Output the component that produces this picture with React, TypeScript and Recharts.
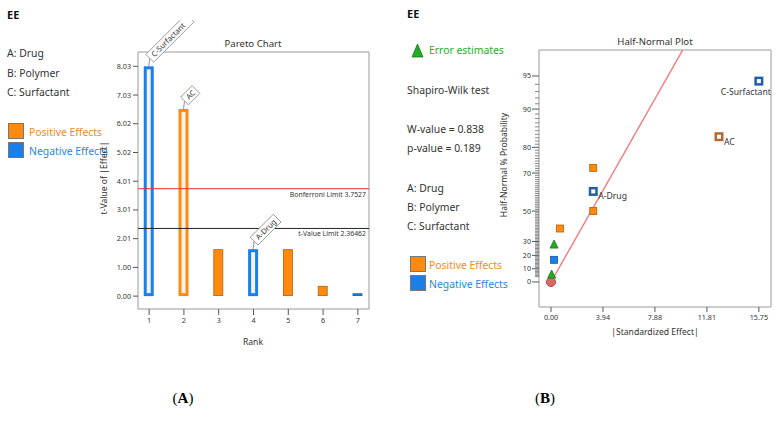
import React from 'react';
import {
  ComposedChart, Bar, XAxis, YAxis, ReferenceLine, ReferenceArea, LabelList,
  ScatterChart, Scatter,
} from 'recharts';

const FONT = '"Noto Sans", "Open Sans", sans-serif';
const ORANGE = '#ff8a0d';
const ORANGE_EDGE = '#b85e00';
const BLUE = '#1c7ee8';
const BLUE_EDGE = '#1458aa';
const GREEN = '#22ad22';
const TXT = '#333';

// ---- (A) Pareto chart ----
const paretoRanks = [1, 2, 3, 4, 5, 6, 7];
const paretoTValues = [8.03, 6.54, 1.64, 1.64, 1.64, 0.36, 0.1];
const paretoSigns = ['neg', 'pos', 'pos', 'neg', 'pos', 'pos', 'neg'];
const paretoInModel = [true, true, false, true, false, false, false];
const paretoTerms = ['C-Surfactant', 'AC', '', 'A-Drug', '', '', ''];
const paretoYTicks = [0, 1.00375, 2.0075, 3.01125, 4.015, 5.01875, 6.0225, 7.02625, 8.03];
const paretoYLabels = ['0.00', '1.00', '2.01', '3.01', '4.01', '5.02', '6.02', '7.03', '8.03'];
const bonferroniLimit = 3.7527;
const tValueLimit = 2.36462;

// ---- (B) Half-normal plot ----
const hnEffects = [0.05, 0.23, 0.23, 0.68, 3.2, 3.2, 3.2, 12.73, 15.75];
const hnProbs = [5.6, 16.7, 27.8, 38.9, 50.0, 61.1, 72.2, 83.3, 94.4];
const hnKinds = ['error', 'neg', 'error', 'pos', 'pos', 'neg', 'pos', 'pos', 'neg'];
const hnInModel = [false, false, false, false, false, true, false, true, true];
const hnTerms = ['', '', '', '', '', 'A-Drug', '', 'AC', 'C-Surfactant'];
const hnXTicks = [0, 3.9375, 7.875, 11.8125, 15.75];
const hnXLabels = ['0.00', '3.94', '7.88', '11.81', '15.75'];
const hnYTicks = [0, 10, 20, 30, 50, 70, 80, 90, 95];
const hnFitEffects = [0, 10.0];
const hnFitProbs = [0, 97.3];

// inverse normal cdf (Acklam)
function probit(p: number) {
  const a = [-39.69683028665376, 220.9460984245205, -275.9285104469687, 138.357751867269, -30.66479806614716, 2.506628277459239];
  const b = [-54.47609879822406, 161.5858589038810, -155.6989798598866, 66.80131188771972, -13.28068155288572];
  const c = [-0.007784894002430293, -0.3223964580411365, -2.400758277161838, -2.549732539343734, 4.374664141464968, 2.938163982698783];
  const d = [0.007784695709041462, 0.3224671290700398, 2.445134137142996, 3.754408661907416];
  const lo = 0.02425;
  if (p < lo) {
    const q = Math.sqrt(-2 * Math.log(p));
    return (((((c[0] * q + c[1]) * q + c[2]) * q + c[3]) * q + c[4]) * q + c[5]) / ((((d[0] * q + d[1]) * q + d[2]) * q + d[3]) * q + 1);
  }
  if (p > 1 - lo) {
    const q = Math.sqrt(-2 * Math.log(1 - p));
    return -(((((c[0] * q + c[1]) * q + c[2]) * q + c[3]) * q + c[4]) * q + c[5]) / ((((d[0] * q + d[1]) * q + d[2]) * q + d[3]) * q + 1);
  }
  const q = p - 0.5;
  const r = q * q;
  return (((((a[0] * r + a[1]) * r + a[2]) * r + a[3]) * r + a[4]) * r + a[5]) * q / (((((b[0] * r + b[1]) * r + b[2]) * r + b[3]) * r + b[4]) * r + 1);
}
const hnZ = (pct: number) => probit(0.5 + pct / 200);

// major + minor ladder on the probability axis
const probAxisTicks: number[] = [...hnYTicks];
for (let p = 4; p <= 94; p++) if (!hnYTicks.includes(p)) probAxisTicks.push(p);
probAxisTicks.sort((m, n) => m - n);

const ProbTick = (props: any) => {
  const { x, y, payload } = props;
  const k = hnYTicks.findIndex((p) => Math.abs(hnZ(p) - payload.value) < 1e-9);
  if (k < 0) return <line x1={x - 4} x2={x} y1={y} y2={y} stroke="#6a6a6a" strokeWidth={0.8} />;
  return (
    <g>
      <line x1={x - 7} x2={x} y1={y} y2={y} stroke="#555" />
      <text x={x - 8} y={y} dy={2.5} textAnchor="end" fontSize={7.2} fill={TXT} fontFamily={FONT}>{hnYTicks[k]}</text>
    </g>
  );
};

const ParetoBar = (props: any) => {
  const { x, y, width, height, payload } = props;
  const fill = payload.sign === 'pos' ? ORANGE : BLUE;
  if (payload.inModel) {
    return (
      <g>
        <rect x={x} y={y} width={width} height={height} fill={fill} />
        <rect x={x + 3} y={y + 3} width={width - 6} height={height - 6} fill="#f2f2f2" />
      </g>
    );
  }
  return <rect x={x + 0.5} y={y + 0.5} width={width - 1} height={height - 1} fill={fill} stroke={payload.sign === 'pos' ? ORANGE_EDGE : BLUE_EDGE} strokeWidth={0.8} />;
};

const TermTag = (props: any) => {
  const { x, y, width, value } = props;
  if (!value) return null;
  const cx = x + width / 2;
  const top = y - 8;
  const len = value.length * 4.1 + 8;
  return (
    <g>
      <line x1={cx} y1={y} x2={cx + 1} y2={top} stroke="#777" strokeWidth={0.8} />
      <g transform={`translate(${cx + 1},${top}) rotate(-45)`}>
        <rect x={0} y={-5.5} width={len} height={11} fill="#fff" stroke="#888" strokeWidth={0.8} />
        <text x={4} y={2.7} fontSize={7.6} fill={TXT} fontFamily={FONT}>{value}</text>
      </g>
    </g>
  );
};

const HalfNormalMark = (props: any) => {
  const { cx, cy, payload } = props;
  const { kind, inModel, term } = payload;
  let mark;
  if (kind === 'error') {
    mark = <polygon points={`${cx - 4},${cy + 3.5} ${cx + 4},${cy + 3.5} ${cx},${cy - 4.5}`} fill={GREEN} stroke="#157a15" strokeWidth={0.8} />;
  } else if (inModel) {
    const edge = kind === 'pos' ? '#b06a36' : '#1f5fa8';
    mark = (
      <g>
        <rect x={cx - 4.5} y={cy - 4.5} width={9} height={9} fill={edge} />
        <rect x={cx - 2} y={cy - 2} width={4} height={4} fill="#fff" />
      </g>
    );
  } else {
    mark = <rect x={cx - 3.5} y={cy - 3.5} width={7} height={7} fill={kind === 'pos' ? ORANGE : BLUE} stroke={kind === 'pos' ? ORANGE_EDGE : BLUE_EDGE} strokeWidth={0.8} />;
  }
  let label = null;
  if (term) {
    const nearRight = payload.effect > 14;
    label = (
      <text x={nearRight ? cx + 12 : cx + 5} y={nearRight ? cy + 14 : cy + 8} textAnchor={nearRight ? 'end' : 'start'} fontSize={8.6} fill={TXT} fontFamily={FONT}>
        {term}
      </text>
    );
  }
  return <g>{mark}{label}</g>;
};

const OriginMark = (props: any) => (
  <circle cx={props.cx} cy={props.cy} r={4.6} fill="#d86868" stroke="#9a3c3c" strokeWidth={0.8} />
);

const NoMark = () => <g />;

const tickStyle = { fontSize: 7.2, fill: TXT, fontFamily: FONT };

export default function App() {
  const paretoRows = paretoRanks.map((rank, i) => ({
    rank, t: paretoTValues[i], sign: paretoSigns[i], inModel: paretoInModel[i], term: paretoTerms[i],
  }));
  const hnRows = hnEffects.map((effect, i) => ({
    effect, z: hnZ(hnProbs[i]), kind: hnKinds[i], inModel: hnInModel[i], term: hnTerms[i],
  }));
  const fitRows = hnFitEffects.map((effect, i) => ({ effect, z: hnZ(hnFitProbs[i]) }));
  const originRows = [{ effect: 0, z: hnZ(0) }];

  const pX: [number, number] = [0.68, 7.32];
  const pY: [number, number] = [-0.45, 8.53];
  const hX: [number, number] = [-0.91, 16.67];
  const hY: [number, number] = [-0.238, 2.207];

  return (
    <div style={{ position: 'absolute', left: 0, top: 0, width: 778, height: 429, background: '#fff', fontFamily: FONT, overflow: 'hidden' }}>
      <svg width={778} height={429} style={{ position: 'absolute', left: 0, top: 0 }} fontFamily={FONT}>
        {/* left panel text */}
        <text x={7} y={19} fontSize={11} fontWeight="bold" fill="#111">EE</text>
        <text x={7} y={57} fontSize={10.4} fill={TXT}>A: Drug</text>
        <text x={7} y={77} fontSize={10.4} fill={TXT}>B: Polymer</text>
        <text x={7} y={96} fontSize={10.4} fill={TXT}>C: Surfactant</text>
        <rect x={8.5} y={123.5} width={15} height={15} fill={ORANGE} stroke="#777" />
        <text x={29} y={136} fontSize={10.4} fill="#f08a24">Positive Effects</text>
        <rect x={8.5} y={142.5} width={15} height={15} fill={BLUE} stroke="#777" />
        <text x={29} y={155} fontSize={10.4} fill="#1e88e5">Negative Effects</text>
        <text x={253} y={47} fontSize={9.6} fill={TXT} textAnchor="middle">Pareto Chart</text>
        <text transform="translate(107,178) rotate(-90)" fontSize={8.6} fill={TXT} textAnchor="middle">t-Value of |Effect|</text>
        <text x={253} y={345} fontSize={8.6} fill={TXT} textAnchor="middle">Rank</text>

        {/* right panel text */}
        <text x={407} y={18} fontSize={11} fontWeight="bold" fill="#111">EE</text>
        <polygon points="412,57 423,57 417.5,44" fill={GREEN} stroke="#157a15" strokeWidth={0.8} />
        <text x={429} y={54} fontSize={10.4} fill="#22b022">Error estimates</text>
        <text x={407} y={94} fontSize={10.4} fill={TXT}>Shapiro-Wilk test</text>
        <text x={407} y={133} fontSize={10.4} fill={TXT}>W-value = 0.838</text>
        <text x={407} y={152} fontSize={10.4} fill={TXT}>p-value = 0.189</text>
        <text x={407} y={192} fontSize={10.4} fill={TXT}>A: Drug</text>
        <text x={407} y={211} fontSize={10.4} fill={TXT}>B: Polymer</text>
        <text x={407} y={230} fontSize={10.4} fill={TXT}>C: Surfactant</text>
        <rect x={410.5} y={256.5} width={15} height={15} fill={ORANGE} stroke="#777" />
        <text x={429} y={269} fontSize={10.4} fill="#f08a24">Positive Effects</text>
        <rect x={410.5} y={275.5} width={15} height={15} fill={BLUE} stroke="#777" />
        <text x={429} y={288} fontSize={10.4} fill="#1e88e5">Negative Effects</text>
        <text x={655} y={45} fontSize={9.6} fill={TXT} textAnchor="middle">Half-Normal Plot</text>
        <text transform="translate(507,165) rotate(-90)" fontSize={8.6} fill={TXT} textAnchor="middle">Half-Normal % Probability</text>
        <text x={655} y={335} fontSize={8.6} fill={TXT} textAnchor="middle">|Standardized Effect|</text>

        {/* panel captions */}
        <text x={183} y={403} fontSize={15} textAnchor="middle" fontFamily='"Liberation Serif", serif' fill="#000">(<tspan fontWeight="bold">A</tspan>)</text>
        <text x={545} y={403} fontSize={15} textAnchor="middle" fontFamily='"Liberation Serif", serif' fill="#000">(<tspan fontWeight="bold">B</tspan>)</text>
      </svg>

      <div style={{ position: 'absolute', left: 90, top: 20 }}>
        <ComposedChart width={290} height={320} data={paretoRows} margin={{ top: 32, right: 11, bottom: 0, left: 0 }}>
          <XAxis dataKey="rank" type="number" domain={pX} allowDataOverflow ticks={paretoRanks}
            axisLine={false} tickSize={6} tickMargin={3} tick={tickStyle} tickLine={{ stroke: '#555' }} height={31} />
          <YAxis type="number" domain={pY} allowDataOverflow ticks={paretoYTicks} width={48}
            tickFormatter={(v: number, i: number) => paretoYLabels[i]}
            axisLine={false} tickSize={5} tickMargin={2} tick={tickStyle} tickLine={{ stroke: '#555' }} />
          <ReferenceArea x1={pX[0]} x2={pX[1]} y1={pY[0]} y2={pY[1]} fill="none" stroke="#9a9a9a" strokeWidth={1} ifOverflow="visible" />
          <ReferenceLine y={bonferroniLimit} stroke="#ff2a2a" strokeWidth={1}
            label={{ value: `Bonferroni Limit ${bonferroniLimit}`, position: 'insideTopRight', fontSize: 6.9, fill: TXT, fontFamily: FONT, offset: 3 }} />
          <ReferenceLine y={tValueLimit} stroke="#222" strokeWidth={1}
            label={{ value: `t-Value Limit ${tValueLimit}`, position: 'insideTopRight', fontSize: 6.9, fill: TXT, fontFamily: FONT, offset: 3 }} />
          <Bar dataKey="t" barSize={10} shape={<ParetoBar />} isAnimationActive={false}>
            <LabelList dataKey="term" content={<TermTag />} />
          </Bar>
        </ComposedChart>
      </div>

      <div style={{ position: 'absolute', left: 490, top: 20 }}>
        <ScatterChart width={290} height={320} margin={{ top: 30, right: 9, bottom: 0, left: 0 }}>
          <XAxis dataKey="effect" type="number" domain={hX} allowDataOverflow ticks={hnXTicks}
            tickFormatter={(v: number, i: number) => hnXLabels[i]}
            axisLine={false} tickSize={5} tickMargin={3} tick={tickStyle} tickLine={{ stroke: '#555' }} height={33} />
          <YAxis dataKey="z" type="number" domain={hY} allowDataOverflow ticks={probAxisTicks.map(hnZ)}
            width={49} axisLine={false} tickLine={false} tickSize={0} tickMargin={0} tick={<ProbTick />} interval={0} />
          <ReferenceArea x1={hX[0]} x2={hX[1]} y1={hY[0]} y2={hY[1]} fill="none" stroke="#9a9a9a" strokeWidth={1} ifOverflow="visible" />
          <Scatter data={fitRows} line={{ stroke: '#f37c7c', strokeWidth: 1.4 }} shape={<NoMark />} isAnimationActive={false} />
          <Scatter data={originRows} shape={<OriginMark />} isAnimationActive={false} />
          <Scatter data={hnRows} shape={<HalfNormalMark />} isAnimationActive={false} />
        </ScatterChart>
      </div>
    </div>
  );
}
